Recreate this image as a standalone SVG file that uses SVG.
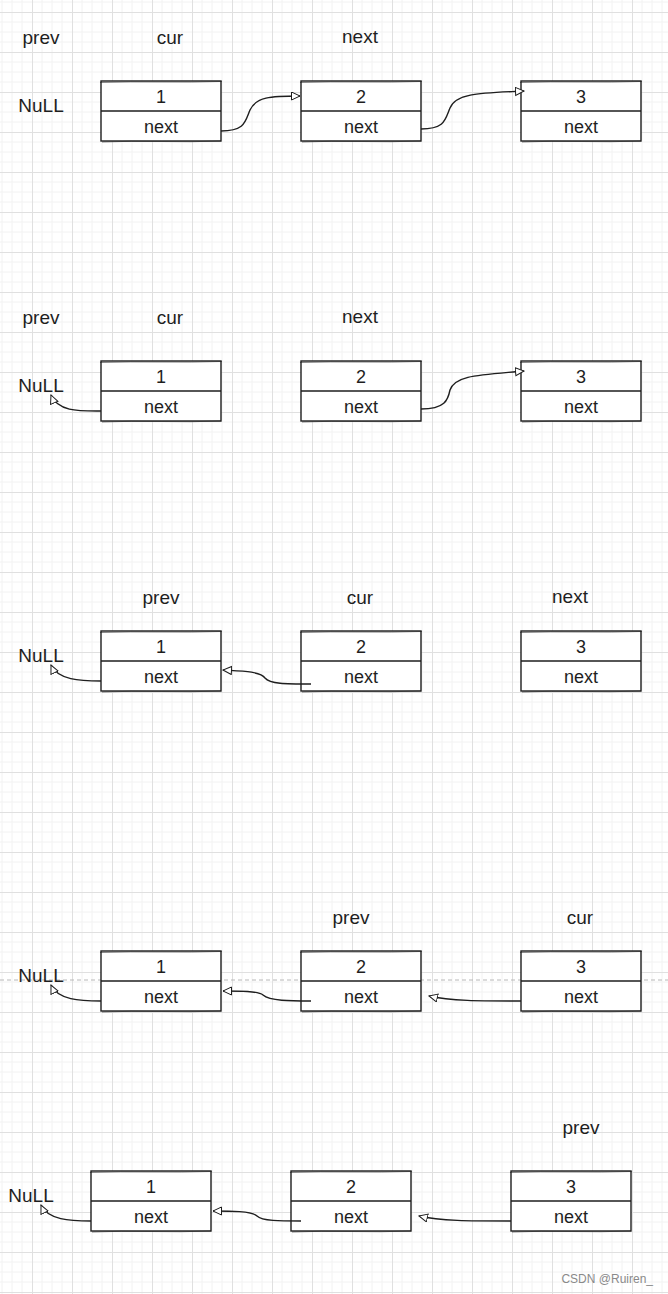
<svg xmlns="http://www.w3.org/2000/svg" width="668" height="1294" viewBox="0 0 668 1294">
<style>
.box{fill:#fff;stroke:#1e1e1e;stroke-width:1.4}
.sk{fill:none;stroke:#1e1e1e;stroke-width:0.8;opacity:0.7}
.div{stroke:#1e1e1e;stroke-width:1.3}
.t{font-family:"Liberation Sans",sans-serif;font-size:18px;fill:#1e1e1e;text-anchor:middle}
.lbl{font-family:"Liberation Sans",sans-serif;font-size:19px;fill:#1e1e1e;text-anchor:middle}
.c{fill:none;stroke:#1e1e1e;stroke-width:1.4;marker-end:url(#ah)}
</style>
<defs>
<pattern id="grid" patternUnits="userSpaceOnUse" x="32" y="12" width="40" height="40">
<path d="M10,0V40M20,0V40M30,0V40M0,10H40M0,20H40M0,30H40" stroke="#f2f2f2" stroke-width="1"/>
<path d="M0.5,0V40M0,0.5H40" stroke="#e0e0e0" stroke-width="1"/>
</pattern>
<marker id="ah" markerUnits="userSpaceOnUse" markerWidth="11" markerHeight="11" refX="9" refY="4.5" orient="auto">
<path d="M0.5,0.5L9,4.5L0.5,8.5z" fill="#fff" stroke="#1e1e1e" stroke-width="1"/>
</marker>
<g id="node">
<rect class="box" x="0" y="0" width="120" height="60"/>
<path class="sk" d="M-1,1.5C40,0 80,2 121,0.5M1,61C40,59 80,62 120,60"/>
<line class="div" x1="0" y1="30" x2="120" y2="30"/>
</g>
</defs>
<rect width="668" height="1294" fill="#fff"/>
<rect width="668" height="1294" fill="url(#grid)"/>
<line x1="0" y1="980" x2="668" y2="980" stroke="#b8b8b8" stroke-width="1" stroke-dasharray="4,3"/>

<g id="row1">
<g id="r1-prev"><text class="lbl" x="41" y="44">prev</text></g>
<g id="r1-cur"><text class="lbl" x="170" y="44">cur</text></g>
<g id="r1-next"><text class="lbl" x="360" y="43">next</text></g>
<g id="r1-null"><text class="lbl" x="41" y="112">NuLL</text></g>
<g id="r1-n1"><use href="#node" x="101" y="81"/><text class="t" x="161" y="103">1</text><text class="t" x="161" y="133">next</text></g>
<g id="r1-n2"><use href="#node" x="301" y="81"/><text class="t" x="361" y="103">2</text><text class="t" x="361" y="133">next</text></g>
<g id="r1-n3"><use href="#node" x="521" y="81"/><text class="t" x="581" y="103">3</text><text class="t" x="581" y="133">next</text></g>
</g>

<g id="row2">
<g id="r2-prev"><text class="lbl" x="41" y="324">prev</text></g>
<g id="r2-cur"><text class="lbl" x="170" y="324">cur</text></g>
<g id="r2-next"><text class="lbl" x="360" y="323">next</text></g>
<g id="r2-null"><text class="lbl" x="41" y="392">NuLL</text></g>
<g id="r2-n1"><use href="#node" x="101" y="361"/><text class="t" x="161" y="383">1</text><text class="t" x="161" y="413">next</text></g>
<g id="r2-n2"><use href="#node" x="301" y="361"/><text class="t" x="361" y="383">2</text><text class="t" x="361" y="413">next</text></g>
<g id="r2-n3"><use href="#node" x="521" y="361"/><text class="t" x="581" y="383">3</text><text class="t" x="581" y="413">next</text></g>
</g>

<g id="row3">
<g id="r3-prev"><text class="lbl" x="161" y="604">prev</text></g>
<g id="r3-cur"><text class="lbl" x="360" y="604">cur</text></g>
<g id="r3-next"><text class="lbl" x="570" y="603">next</text></g>
<g id="r3-null"><text class="lbl" x="41" y="662">NuLL</text></g>
<g id="r3-n1"><use href="#node" x="101" y="631"/><text class="t" x="161" y="653">1</text><text class="t" x="161" y="683">next</text></g>
<g id="r3-n2"><use href="#node" x="301" y="631"/><text class="t" x="361" y="653">2</text><text class="t" x="361" y="683">next</text></g>
<g id="r3-n3"><use href="#node" x="521" y="631"/><text class="t" x="581" y="653">3</text><text class="t" x="581" y="683">next</text></g>
</g>

<g id="row4">
<g id="r4-prev"><text class="lbl" x="351" y="924">prev</text></g>
<g id="r4-cur"><text class="lbl" x="580" y="924">cur</text></g>
<g id="r4-null"><text class="lbl" x="41" y="982">NuLL</text></g>
<g id="r4-n1"><use href="#node" x="101" y="951"/><text class="t" x="161" y="973">1</text><text class="t" x="161" y="1003">next</text></g>
<g id="r4-n2"><use href="#node" x="301" y="951"/><text class="t" x="361" y="973">2</text><text class="t" x="361" y="1003">next</text></g>
<g id="r4-n3"><use href="#node" x="521" y="951"/><text class="t" x="581" y="973">3</text><text class="t" x="581" y="1003">next</text></g>
</g>

<g id="row5">
<g id="r5-prev"><text class="lbl" x="581" y="1134">prev</text></g>
<g id="r5-null"><text class="lbl" x="31" y="1202">NuLL</text></g>
<g id="r5-n1"><use href="#node" x="91" y="1171"/><text class="t" x="151" y="1193">1</text><text class="t" x="151" y="1223">next</text></g>
<g id="r5-n2"><use href="#node" x="291" y="1171"/><text class="t" x="351" y="1193">2</text><text class="t" x="351" y="1223">next</text></g>
<g id="r5-n3"><use href="#node" x="511" y="1171"/><text class="t" x="571" y="1193">3</text><text class="t" x="571" y="1223">next</text></g>
</g>

<g id="connectors">
<path class="c" d="M221,131C245,131 245,122 250,110C256,97 270,96 300,96"/>
<path class="c" d="M421,129C445,129 445,120 450,108C456,93 480,93 524,91"/>
<path class="c" d="M101,411C80,411 58,412 51,395"/>
<path class="c" d="M421,409C445,409 448,400 450,390C455,375 480,375 524,371"/>
<path class="c" d="M101,681C80,681 58,680 51,665"/>
<path class="c" d="M311,684C285,684 270,684 265,678C260,671 240,671 223,670"/>
<path class="c" d="M101,1001C80,1001 58,1000 51,985"/>
<path class="c" d="M311,1001C290,1001 270,1001 263,995C258,991 240,991 223,991"/>
<path class="c" d="M521,1001C480,1001 450,1001 429,996"/>
<path class="c" d="M91,1221C70,1221 48,1220 41,1205"/>
<path class="c" d="M301,1221C280,1221 262,1221 257,1216C252,1211 230,1211 213,1211"/>
<path class="c" d="M511,1221C470,1221 440,1221 419,1216"/>
</g>

<g id="watermark"><text x="653" y="1283" font-family="Liberation Sans,sans-serif" font-size="12" fill="#8a8a8a" text-anchor="end">CSDN @Ruiren_</text></g>
</svg>
